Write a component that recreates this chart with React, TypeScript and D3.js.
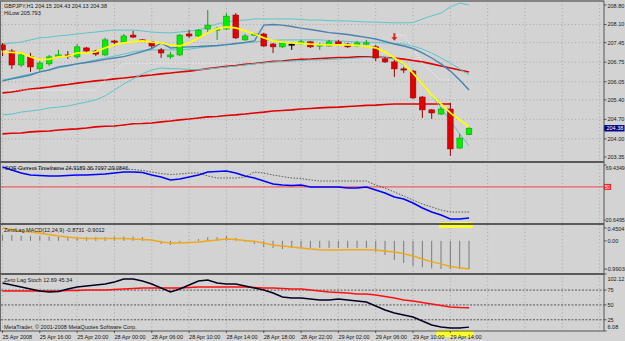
import React from 'react'
import * as d3 from 'd3'

const width = 625
const height = 341
const plotRight = 604

// --- price bars (GBPJPY H1) ---
const opens = [207.37, 207.15, 206.65, 206.94, 206.51, 206.69, 206.94, 207.01, 206.94, 207.26, 207.15, 207.01, 207.51, 207.48, 207.72, 207.55, 207.48, 207.19, 206.94, 207.01, 207.76, 207.69, 207.94, 207.90, 207.94, 208.44, 207.55, 207.72, 207.76, 207.40, 207.30, 207.40, 207.40, 207.48, 207.33, 207.33, 207.48, 207.40, 207.33, 207.40, 207.30, 206.87, 206.76, 206.51, 206.43, 205.50, 205.04, 204.89, 205.07, 203.67, 204.15]
const highs = [207.44, 207.22, 207.12, 207.08, 206.79, 207.01, 207.19, 207.15, 207.40, 207.30, 207.19, 207.62, 207.55, 207.76, 207.87, 207.58, 207.51, 207.26, 207.12, 207.76, 207.90, 207.94, 208.62, 208.01, 208.51, 208.51, 207.76, 207.80, 207.80, 207.44, 207.48, 207.44, 207.55, 207.51, 207.44, 207.55, 207.55, 207.44, 207.51, 207.55, 207.37, 206.94, 206.83, 206.58, 206.47, 205.54, 205.07, 205.14, 205.29, 204.18, 204.43]
const lows = [206.97, 206.51, 206.58, 206.40, 206.44, 206.62, 206.90, 206.87, 206.87, 207.12, 206.97, 206.97, 207.37, 207.44, 207.62, 207.48, 207.26, 206.90, 206.87, 206.97, 207.62, 207.65, 207.83, 207.55, 207.90, 207.58, 207.51, 207.69, 207.30, 207.08, 207.26, 207.19, 207.37, 207.26, 207.19, 207.30, 207.37, 207.26, 207.30, 207.37, 206.79, 206.72, 206.22, 206.36, 205.43, 204.75, 204.72, 204.86, 203.39, 203.64, 204.13]
const closes = [207.19, 206.65, 207.01, 206.58, 206.72, 206.94, 207.01, 206.97, 207.30, 207.15, 207.04, 207.55, 207.48, 207.69, 207.65, 207.51, 207.33, 207.08, 207.01, 207.72, 207.69, 207.90, 208.08, 207.94, 208.40, 207.62, 207.69, 207.76, 207.33, 207.30, 207.44, 207.40, 207.48, 207.30, 207.37, 207.48, 207.40, 207.30, 207.44, 207.44, 206.90, 206.76, 206.51, 206.47, 205.47, 205.04, 204.93, 205.07, 203.64, 204.03, 204.38]

// --- main window overlays ---
const yellowMa = [207.12, 207.10, 207.08, 206.94, 206.83, 206.86, 206.94, 206.97, 207.08, 207.08, 207.12, 207.26, 207.37, 207.44, 207.49, 207.51, 207.47, 207.44, 207.37, 207.33, 207.44, 207.62, 207.80, 207.94, 208.01, 207.98, 207.87, 207.76, 207.62, 207.51, 207.47, 207.44, 207.42, 207.40, 207.38, 207.37, 207.37, 207.37, 207.35, 207.31, 207.26, 207.12, 206.90, 206.69, 206.36, 205.97, 205.57, 205.25, 204.93, 204.68, 204.43]
const blueMa = [206.08, 206.15, 206.22, 206.29, 206.40, 206.47, 206.58, 206.63, 206.69, 206.74, 206.79, 206.85, 206.90, 206.95, 207.04, 207.13, 207.24, 207.44, 207.26, 207.28, 207.30, 207.31, 207.33, 207.35, 207.38, 207.42, 207.46, 207.51, 208.08, 208.10, 208.08, 208.03, 207.97, 207.92, 207.87, 207.81, 207.78, 207.74, 207.69, 207.64, 207.58, 207.49, 207.40, 207.33, 207.24, 207.08, 206.90, 206.69, 206.43, 206.11, 205.75]
const bandUpper = [207.40, 207.44, 207.47, 207.55, 207.62, 207.65, 207.69, 207.72, 207.76, 207.80, 207.83, 207.87, 207.90, 207.90, 207.90, 207.87, 207.83, 207.81, 207.80, 207.83, 207.87, 207.90, 208.01, 208.12, 208.19, 208.24, 208.26, 208.30, 208.30, 208.30, 208.30, 208.30, 208.28, 208.26, 208.26, 208.24, 208.23, 208.23, 208.21, 208.19, 208.19, 208.17, 208.16, 208.16, 208.17, 208.30, 208.41, 208.51, 208.73, 208.87, 208.80]
const bandMid = [206.11, 206.18, 206.26, 206.33, 206.40, 206.47, 206.54, 206.61, 206.69, 206.76, 206.83, 206.90, 206.97, 207.04, 207.12, 207.17, 207.19, 207.19, 207.19, 207.19, 207.22, 207.26, 207.30, 207.33, 207.37, 207.40, 207.44, 207.47, 207.51, 207.53, 207.55, 207.55, 207.55, 207.55, 207.55, 207.53, 207.51, 207.49, 207.47, 207.47, 207.46, 207.44, 207.42, 207.40, 207.33, 207.22, 207.08, 206.90, 206.72, 206.51, 206.29]
const bandLower = [204.86, 204.89, 204.96, 205.00, 205.04, 205.11, 205.14, 205.18, 205.25, 205.32, 205.40, 205.54, 205.75, 205.97, 206.15, 206.33, 206.47, 206.54, 206.52, 206.51, 206.49, 206.47, 206.51, 206.54, 206.58, 206.61, 206.65, 206.69, 206.72, 206.76, 206.77, 206.79, 206.81, 206.83, 206.83, 206.85, 206.86, 206.88, 206.90, 206.92, 206.94, 206.92, 206.86, 206.65, 206.40, 206.00, 205.54, 205.11, 204.64, 204.18, 203.75]
const redMaFast = [205.65, 205.68, 205.74, 205.79, 205.82, 205.86, 205.91, 205.95, 206.00, 206.04, 206.08, 206.11, 206.15, 206.18, 206.22, 206.26, 206.29, 206.33, 206.36, 206.40, 206.43, 206.47, 206.52, 206.56, 206.60, 206.63, 206.67, 206.70, 206.74, 206.78, 206.79, 206.83, 206.85, 206.86, 206.88, 206.90, 206.92, 206.92, 206.94, 206.94, 206.94, 206.92, 206.90, 206.86, 206.81, 206.76, 206.69, 206.61, 206.54, 206.47, 206.40]
const redMaSlow = [204.18, 204.20, 204.21, 204.25, 204.27, 204.28, 204.32, 204.34, 204.36, 204.39, 204.43, 204.45, 204.46, 204.50, 204.54, 204.55, 204.57, 204.61, 204.64, 204.68, 204.71, 204.75, 204.79, 204.80, 204.84, 204.86, 204.89, 204.93, 204.96, 205.00, 205.02, 205.04, 205.07, 205.09, 205.11, 205.13, 205.14, 205.16, 205.18, 205.20, 205.21, 205.23, 205.25, 205.25, 205.25, 205.25, 205.25, 205.25, 205.25]
const stopDots = [205.75, 205.75, 205.75, 205.75, 205.75, 205.75, 205.75, 205.75, 205.75, 205.75, 205.75, 206.11, 206.40, 206.72, 206.72, 206.72, 206.72, 206.72, 206.72, 206.72, 206.72, 206.72, 206.72, 206.72, 206.72, 206.72, null, null, null, null, null, null, null, null, null, null, null, null, null, null, null, null, 207.72, 207.72, 207.26, 206.72, 206.40, 206.11, 206.11, null, null]
const priceTicks = [208.80, 208.10, 207.45, 206.75, 206.05, 205.40, 204.70, 204.00, 203.35]
const lastPrice = 204.38
const arrowBar = 42
const arrowPrice = 207.64

// --- SQE Current Timeframe ---
const sqeLine = [67.66, 65.00, 62.34, 60.56, 60.12, 59.68, 59.68, 60.12, 60.56, 60.56, 61.00, 61.45, 62.34, 63.22, 63.22, 62.78, 60.56, 58.79, 56.13, 57.01, 58.79, 60.56, 63.22, 63.67, 64.11, 62.34, 59.68, 57.90, 55.24, 52.58, 51.69, 51.25, 51.69, 49.92, 49.92, 49.92, 49.92, 49.03, 49.03, 49.92, 47.26, 44.60, 41.05, 39.27, 35.72, 31.29, 27.74, 25.08, 21.54, 21.54, 22.42]
const sqeDotted = [66.77, 66.77, 66.33, 65.88, 65.88, 65.88, 65.88, 65.88, 65.88, 65.88, 65.88, 65.88, 65.88, 65.88, 65.44, 64.55, 63.22, 61.89, 61.00, 61.45, 62.34, 62.34, 59.68, 57.90, 57.90, 57.90, 58.79, 63.22, 62.34, 60.56, 59.23, 57.90, 57.46, 56.13, 55.24, 55.24, 55.24, 55.24, 55.24, 55.24, 51.69, 49.03, 45.48, 41.93, 38.39, 34.84, 32.18, 29.52, 27.74, 27.74, 27.74]
const sqeRange = [20.6495, 69.4349]
const sqeLevel = 50

// --- ZeroLag MACD ---
const macdHist = [0.22, 0.20, 0.18, 0.17, 0.16, 0.15, 0.14, 0.13, 0.13, 0.13, 0.13, 0.13, 0.15, 0.15, 0.15, 0.13, 0.03, -0.11, -0.15, -0.08, -0.01, 0.06, 0.13, 0.13, 0.17, 0.10, -0.04, -0.11, -0.22, -0.25, -0.29, -0.25, -0.25, -0.25, -0.25, -0.25, -0.25, -0.25, -0.25, -0.25, -0.39, -0.50, -0.67, -0.78, -0.89, -0.93, -0.97, -0.99, -0.99, -0.99, -0.99]
const macdSignal = [0.45, 0.40, 0.34, 0.31, 0.27, 0.22, 0.17, 0.13, 0.10, 0.08, 0.08, 0.08, 0.08, 0.08, 0.06, 0.05, 0.03, -0.04, -0.08, -0.08, -0.06, -0.04, -0.01, 0.03, 0.06, 0.05, 0.01, -0.02, -0.08, -0.15, -0.18, -0.22, -0.25, -0.29, -0.31, -0.32, -0.32, -0.31, -0.31, -0.31, -0.32, -0.36, -0.39, -0.45, -0.53, -0.64, -0.74, -0.81, -0.90, -0.95, -0.99]
const macdTicks = [0.4504, 0, -0.9903]

// --- Zero Lag Stoch ---
const stochMain = [86.96, 83.59, 80.22, 76.85, 73.48, 71.79, 72.64, 76.85, 80.22, 81.91, 83.59, 85.28, 88.65, 93.70, 93.70, 90.33, 85.28, 78.54, 71.79, 76.85, 83.59, 90.33, 92.02, 86.96, 85.28, 85.28, 81.91, 78.54, 75.17, 70.11, 63.37, 61.69, 61.69, 60.00, 58.32, 58.32, 60.00, 58.32, 56.63, 54.95, 48.21, 41.47, 36.41, 33.04, 29.67, 22.93, 16.19, 12.82, 11.14, 11.14, 12.69]
const stochSignal = [73.48, 73.48, 73.48, 73.48, 73.48, 73.48, 73.48, 74.32, 74.32, 75.17, 75.17, 75.17, 76.01, 76.85, 77.69, 78.54, 78.54, 78.54, 78.54, 78.54, 79.38, 80.22, 80.22, 80.22, 80.22, 80.22, 80.22, 79.38, 78.54, 78.54, 77.69, 76.85, 76.85, 75.17, 73.48, 71.79, 70.95, 70.11, 68.43, 68.43, 66.74, 64.21, 61.69, 58.32, 56.63, 54.11, 51.58, 49.05, 46.52, 45.68, 45.34]
const stochRange = [6.08, 102.12]
const stochLevels = [75, 50, 25]

// --- time axis ---
const timeLabels = ['25 Apr 2008', '25 Apr 16:00', '25 Apr 20:00', '28 Apr 00:00', '28 Apr 06:00', '28 Apr 10:00', '28 Apr 14:00', '28 Apr 18:00', '28 Apr 22:00', '29 Apr 02:00', '29 Apr 06:00', '29 Apr 10:00', '29 Apr 14:00']
const labelEvery = 4

const bg = '#d3d3d3'
const font = "'Liberation Sans', Arial, sans-serif"
const textCol = '#161616'

const panels = {
  main: { top: 1, bottom: 162 },
  sqe: { top: 163, bottom: 224 },
  macd: { top: 224, bottom: 274 },
  stoch: { top: 274, bottom: 331 },
}

const x = d3.scaleLinear().domain([0, 64.5]).range([2.5, 604.3])
const yMain = d3.scaleLinear().domain([203.35, 208.8]).range([157, 5])
const ySqe = d3.scaleLinear().domain(sqeRange).range([220, 165])
const yMacd = d3.scaleLinear().domain([-0.9903, 0.4504]).range([269, 228])
const yStoch = d3.scaleLinear().domain(stochRange).range([331, 274])

const lineFor = (ys: d3.ScaleLinear<number, number>) =>
  d3.line<number | null>()
    .defined(d => d != null)
    .x((_, i) => x(i))
    .y(d => ys(d as number))

function AxisLabel({ v, text, ys, panel }: any) {
  const y = Math.max(panel.top + 5, Math.min(panel.bottom - 4, ys(v)))
  const long = text.length > 6
  return (
    <g>
      <line x1={plotRight} x2={plotRight + 2.5} y1={ys(v)} y2={ys(v)} stroke="#333" strokeWidth={0.8} />
      <text
        x={long ? plotRight + 1.8 : plotRight + 3.5}
        y={y}
        dy="0.35em"
        fontSize={5.5}
        fill={textCol}
        textLength={long ? 19 : undefined}
        lengthAdjust={long ? 'spacingAndGlyphs' : undefined}
      >{text}</text>
    </g>
  )
}

export default function App() {
  const step = x(1) - x(0)
  const bodyW = step * 0.6
  const gridIdx = d3.range(0, 65, labelEvery)
  const bars = d3.range(closes.length)

  return (
    <svg width={width} height={height} style={{ position: 'absolute', left: 0, top: 0, background: bg }} fontFamily={font}>
      <defs>
        {Object.entries(panels).map(([k, p]) => (
          <clipPath id={'clip-' + k} key={k}>
            <rect x={1} y={p.top} width={plotRight - 1} height={p.bottom - p.top} />
          </clipPath>
        ))}
      </defs>
      <rect x={0} y={0} width={width} height={height} fill={bg} />

      {/* grid */}
      <g stroke="#9a9a9a" strokeWidth={0.7} strokeDasharray="1,2.5">
        {gridIdx.map(i => (
          <line key={'v' + i} x1={x(i)} x2={x(i)} y1={1} y2={331} />
        ))}
        {priceTicks.slice(1, -1).map(p => (
          <line key={'h' + p} x1={1} x2={plotRight} y1={yMain(p)} y2={yMain(p)} />
        ))}
      </g>

      {/* main window */}
      <g clipPath="url(#clip-main)">
        <path d={lineFor(yMain)(redMaSlow) || ''} fill="none" stroke="#e00000" strokeWidth={1.6} />
        <path d={lineFor(yMain)(redMaFast) || ''} fill="none" stroke="#e00000" strokeWidth={1.6} />
        <path d={lineFor(yMain)(bandUpper) || ''} fill="none" stroke="#5cc6c6" strokeWidth={1} />
        <path d={lineFor(yMain)(bandMid) || ''} fill="none" stroke="#5cc6c6" strokeWidth={1} />
        <path d={lineFor(yMain)(bandLower) || ''} fill="none" stroke="#5cc6c6" strokeWidth={1} />
        <path d={lineFor(yMain)(stopDots) || ''} fill="none" stroke="#ffffff" strokeWidth={1} strokeDasharray="1,2" />
        <path d={lineFor(yMain)(blueMa) || ''} fill="none" stroke="#4a82b0" strokeWidth={1.4} />
        {bars.map(i => {
          const up = closes[i] > opens[i]
          const flat = closes[i] === opens[i]
          const fill = flat ? '#000' : up ? '#00f000' : '#e00000'
          const edge = flat ? '#000' : up ? '#10a010' : '#a00000'
          const yT = yMain(Math.max(opens[i], closes[i]))
          const yB = yMain(Math.min(opens[i], closes[i]))
          return (
            <g key={'c' + i}>
              <line x1={x(i)} x2={x(i)} y1={yMain(highs[i])} y2={yMain(lows[i])} stroke={edge} strokeWidth={1} />
              <rect x={x(i) - bodyW / 2} y={yT} width={bodyW} height={Math.max(1.2, yB - yT)} fill={fill} stroke={edge} strokeWidth={0.6} />
            </g>
          )
        })}
        <path d={lineFor(yMain)(yellowMa) || ''} fill="none" stroke="#ffff00" strokeWidth={1.8} />
        <path
          transform={`translate(${x(arrowBar)},${yMain(arrowPrice)})`}
          d="M-1,-4 L1,-4 L1,0 L3,0 L0,3.5 L-3,0 L-1,0 Z"
          fill="#e02020"
        />
      </g>
      <text x={4} y={8} fontSize={5.5} fill={textCol}>GBPJPY,H1  204.15 204.43 204.13 204.38</text>
      <text x={4} y={14.5} fontSize={5.5} fill={textCol}>HiLow 205.793</text>
      {priceTicks.map(p => (
        <AxisLabel key={p} v={p} text={p.toFixed(2)} ys={yMain} panel={panels.main} />
      ))}
      <rect x={plotRight} y={yMain(lastPrice) - 3.2} width={20.5} height={6.4} fill="#000080" />
      <text x={plotRight + 2.5} y={yMain(lastPrice)} dy="0.35em" fontSize={5.5} fill="#fff">{lastPrice.toFixed(2)}</text>

      {/* SQE panel */}
      <g clipPath="url(#clip-sqe)">
        <line x1={1} x2={plotRight} y1={ySqe(sqeLevel)} y2={ySqe(sqeLevel)} stroke="#ff2020" strokeWidth={0.8} />
        <path d={lineFor(ySqe)(sqeDotted) || ''} fill="none" stroke="#222" strokeWidth={0.7} strokeDasharray="1.5,1.5" />
        <path d={lineFor(ySqe)(sqeLine) || ''} fill="none" stroke="#0000ff" strokeWidth={1.6} />
      </g>
      <text x={5} y={170} fontSize={5.5} fill={textCol}>SQE Current Timeframe 24.9189 36.7097 29.0846</text>
      <AxisLabel v={sqeRange[1]} text="69.4349" ys={ySqe} panel={panels.sqe} />
      <AxisLabel v={sqeRange[0]} text="20.6495" ys={ySqe} panel={panels.sqe} />
      <rect x={plotRight} y={ySqe(sqeLevel) - 3} width={7} height={6} fill="#ff2020" />
      <text x={plotRight + 0.8} y={ySqe(sqeLevel)} dy="0.35em" fontSize={4.6} fill="#fff">{sqeLevel}</text>

      {/* MACD panel */}
      <g clipPath="url(#clip-macd)">
        {bars.map(i => (
          <line key={'m' + i} x1={x(i)} x2={x(i)} y1={yMacd(0)} y2={yMacd(macdHist[i])} stroke="#7a7a7a" strokeWidth={1} />
        ))}
        <path d={lineFor(yMacd)(macdSignal) || ''} fill="none" stroke="#f0a818" strokeWidth={1.5} />
      </g>
      <text x={4} y={232} fontSize={5.5} fill={textCol}>ZeroLag MACD(12,24,9) -0.8731 -0.9012</text>
      {macdTicks.map(v => (
        <AxisLabel key={v} v={v} text={v === 0 ? '0.00' : String(v)} ys={yMacd} panel={panels.macd} />
      ))}

      {/* Stoch panel */}
      <g clipPath="url(#clip-stoch)">
        {stochLevels.map(l => (
          <line key={l} x1={1} x2={plotRight} y1={yStoch(l)} y2={yStoch(l)} stroke="#222" strokeWidth={0.7} strokeDasharray="2,1.5" />
        ))}
        <path d={lineFor(yStoch)(stochSignal) || ''} fill="none" stroke="#ff1010" strokeWidth={1.4} />
        <path d={lineFor(yStoch)(stochMain) || ''} fill="none" stroke="#000020" strokeWidth={1.4} />
      </g>
      <text x={4} y={282} fontSize={5.5} fill={textCol}>Zero Lag Stoch 12.69 45.34</text>
      <text x={4} y={328.5} fontSize={5.5} fill={textCol}>MetaTrader, © 2001-2008 MetaQuotes Software Corp.</text>
      <AxisLabel v={stochRange[1]} text="102.12" ys={yStoch} panel={panels.stoch} />
      {stochLevels.map(l => (
        <AxisLabel key={l} v={l} text={String(l)} ys={yStoch} panel={panels.stoch} />
      ))}
      <AxisLabel v={stochRange[0]} text="6.08" ys={yStoch} panel={panels.stoch} />

      {/* highlighter marks */}
      <rect x={x(46.8)} y={222} width={x(50.4) - x(46.8)} height={6} fill="#ffff30" />
      <rect x={x(46.5)} y={330} width={x(50.5) - x(46.5)} height={7} fill="#ffff30" />

      {/* frames */}
      <g fill="none">
        <line x1={0} x2={plotRight} y1={1} y2={1} stroke="#6a6a6a" strokeWidth={1.5} />
        <line x1={0.5} x2={0.5} y1={1} y2={331} stroke="#6a6a6a" strokeWidth={1} />
        <line x1={plotRight} x2={plotRight} y1={1} y2={331} stroke="#555" strokeWidth={1} />
        {[panels.main.bottom, panels.sqe.bottom, panels.macd.bottom].map(yy => (
          <line key={yy} x1={0} x2={plotRight} y1={yy} y2={yy} stroke="#5a5a5a" strokeWidth={2} />
        ))}
        <line x1={0} x2={plotRight} y1={331} y2={331} stroke="#555" strokeWidth={1} />
      </g>

      {/* time axis */}
      {timeLabels.map((t, k) => (
        <g key={t}>
          <line x1={x(k * labelEvery)} x2={x(k * labelEvery)} y1={331} y2={333} stroke="#333" strokeWidth={0.8} />
          <text x={x(k * labelEvery)} y={338.5} fontSize={5.5} fill={textCol}>{t}</text>
        </g>
      ))}
    </svg>
  )
}
